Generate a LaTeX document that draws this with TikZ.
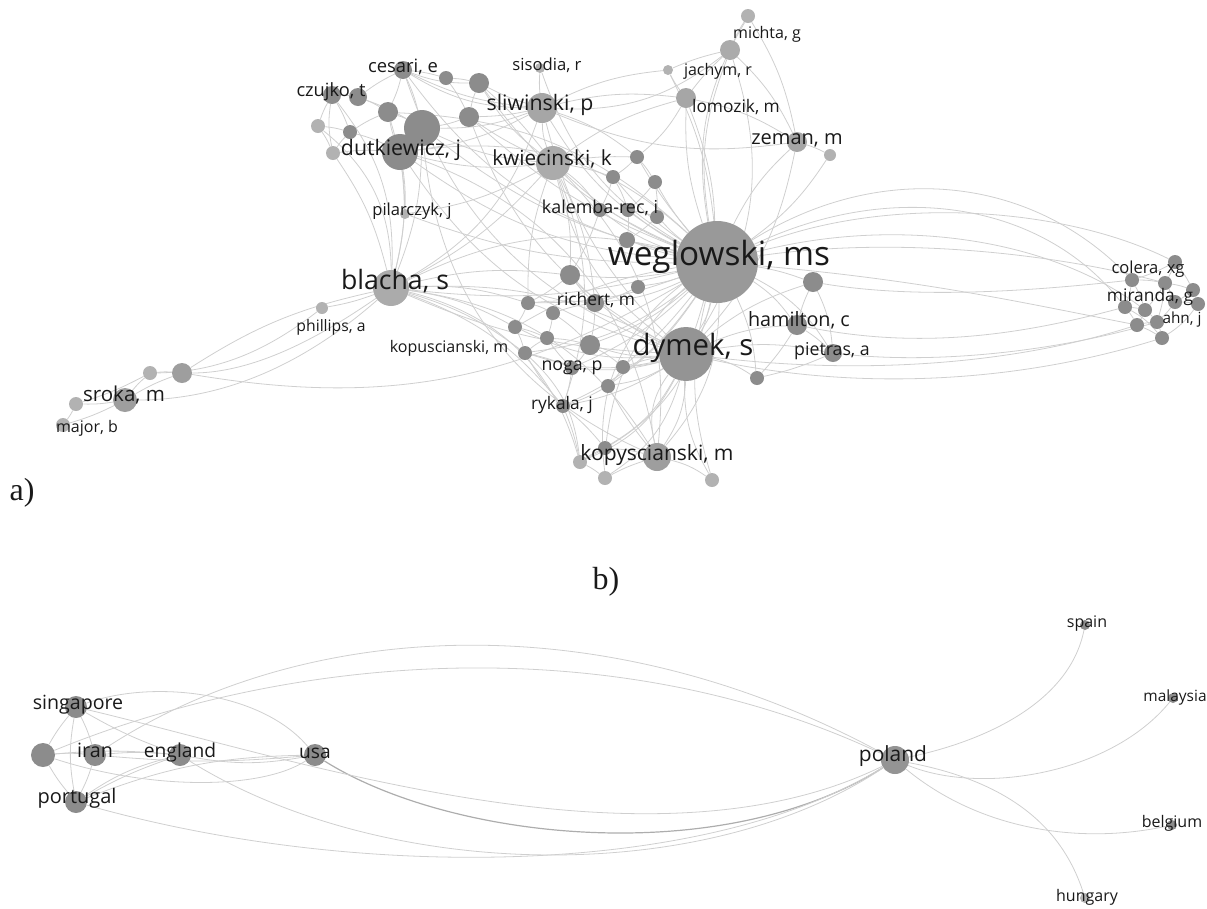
\documentclass[tikz,border=0pt]{standalone}
\usepackage{fontspec}
\setmainfont{Open Sans}
\newfontfamily\labserif{Liberation Serif}
\pgfdeclarelayer{bg}
\pgfsetlayers{bg,main}
\tikzset{
  nd/.style={circle, inner sep=0pt, fill=black!45, minimum size=#1*1.5pt},
  ndl/.style={nd=#1, fill=black!30},
  lab/.style={inner sep=0pt, text=black!90, text height=0.75em, text depth=0.2em, font=\fontsize{#1}{#1}\selectfont},
  panel/.style={inner sep=0pt, text=black!90, font=\labserif\fontsize{24}{24}\selectfont},
  ed/.style={draw=black!19, line width=0.6pt},
  edd/.style={draw=black!32, line width=0.9pt},
}
\begin{document}
\begin{tikzpicture}[x=0.75pt,y=-0.75pt]
\useasboundingbox (0,0) rectangle (1207,908);
% ---------------- graph a: nodes ----------------
\node[nd=41, fill=black!40] (W) at (717,262) {};
\node[nd=27, fill=black!42] (D) at (686,354) {};
\node[nd=18, fill=black!33] (B) at (391,288) {};
\node[nd=17, fill=black!33] (K) at (553,163) {};
\node[nd=15, fill=black!35] (S) at (542,108) {};
\node[nd=18] (DU) at (400,152) {};
\node[nd=18] (BG) at (422,128) {};
\node[nd=14, fill=black!38] (KO) at (657,457) {};
\node[nd=10, fill=black!35] (Z) at (797,142) {};
\node[ndl=6] (Z2) at (830,155) {};
\node[nd=10] (H) at (797,325) {};
\node[nd=9] (P) at (833,353) {};
\node[nd=10] (R1) at (813,282) {};
\node[nd=12, fill=black!38] (SR) at (125,400) {};
\node[ndl=7] (SR2) at (150,373) {};
\node[nd=10, fill=black!38] (SR3) at (182,373) {};
\node[ndl=7] (SR4) at (76,404) {};
\node[ndl=7] (MJ) at (63,425) {};
\node[ndl=6] (PH) at (322,308) {};
\node[nd=9] (CZ1) at (332,95) {};
\node[nd=9] (CZ2) at (358,97) {};
\node[nd=9] (CE) at (403,70) {};
\node[nd=7] (T1) at (446,78) {};
\node[nd=10] (T2) at (479,83) {};
\node[nd=10] (T3) at (388,112) {};
\node[nd=10] (T4) at (469,117) {};
\node[ndl=7] (T5) at (318,126) {};
\node[nd=7] (T6) at (350,132) {};
\node[ndl=7] (T7) at (333,153) {};
\node[ndl=5] (SI) at (540,68) {};
\node[ndl=5] (JA) at (668,70) {};
\node[nd=10, fill=black!35] (LO) at (686,98) {};
\node[nd=10, fill=black!33] (MI) at (730,50) {};
\node[ndl=7] (MI2) at (748,16) {};
\node[ndl=5] (PI) at (405,214) {};
\node[nd=7] (N1) at (637,157) {};
\node[nd=7] (N2) at (613,177) {};
\node[nd=7] (N3) at (655,182) {};
\node[nd=7] (N4) at (600,210) {};
\node[nd=7] (N5) at (628,210) {};
\node[nd=7] (N6) at (657,217) {};
\node[nd=8] (N7) at (627,240) {};
\node[nd=10] (N8) at (570,275) {};
\node[nd=7] (N9) at (638,287) {};
\node[nd=9] (RI) at (595,303) {};
\node[nd=7] (C1) at (528,303) {};
\node[nd=7] (C2) at (553,313) {};
\node[nd=7] (C3) at (515,327) {};
\node[nd=7] (C4) at (547,338) {};
\node[nd=10] (C5) at (590,345) {};
\node[nd=7] (KP) at (525,353) {};
\node[nd=7] (NO) at (572,368) {};
\node[nd=7] (N10) at (623,367) {};
\node[nd=7] (N11) at (608,386) {};
\node[nd=7] (RY) at (563,406) {};
\node[nd=7] (N12) at (757,378) {};
\node[ndl=7] (K1) at (580,462) {};
\node[nd=7] (K2) at (605,448) {};
\node[ndl=7] (K3) at (605,478) {};
\node[ndl=7] (K4) at (712,480) {};
\node[nd=7] (RC1) at (1175,262) {};
\node[nd=7] (RC2) at (1132,280) {};
\node[nd=7] (RC3) at (1165,283) {};
\node[nd=7] (RC4) at (1193,290) {};
\node[nd=7] (RC5) at (1125,307) {};
\node[nd=7] (RC6) at (1145,310) {};
\node[nd=7] (RC8) at (1175,302) {};
\node[nd=7] (RC9) at (1198,304) {};
\node[nd=7] (RC10) at (1137,325) {};
\node[nd=7] (RC11) at (1157,322) {};
\node[nd=7] (RC12) at (1162,338) {};
% ---------------- graph b: nodes ----------------
\node[nd=12] (LN) at (43,755) {};
\node[nd=11] (IR) at (95,755) {};
\node[nd=11] (SG) at (76,707) {};
\node[nd=11] (PT) at (76,802) {};
\node[nd=11] (EN) at (180,755) {};
\node[nd=11] (US) at (315,755) {};
\node[nd=14, fill=black!42] (PL) at (895,760) {};
\node[nd=5] (SP) at (1085,625) {};
\node[nd=5] (MA) at (1173,698) {};
\node[nd=5] (BE) at (1172,825) {};
\node[ndl=5] (HU) at (1085,898) {};
% ---------------- edges ----------------
\begin{pgfonlayer}{bg}
\foreach \a/\b/\c in {W/D/10, W/K/10, W/S/15, W/B/10, W/DU/15, W/BG/12, W/T4/10, W/T2/15, W/CE/20,
  W/Z/10, W/Z2/-10, W/H/10, W/P/15, W/R1/5, W/KO/20, W/LO/10, W/MI/15, W/MI2/20, W/JA/-10,
  W/N1/5, W/N2/8, W/N3/5, W/N4/10, W/N5/5, W/N6/5, W/N7/5, W/N8/8, W/N9/5, W/RI/10, W/C5/10,
  W/N12/10, W/K4/-15, W/K2/-20, W/NO/10, W/N10/5, W/N11/10, W/RY/15, W/KP/15, W/C1/10, W/SI/20, W/PI/10,
  W/K1/25, W/C3/-10, W/SR3/20, W/T3/-20, W/K3/-30, W/DU/-25, W/B/-20,
  D/KO/15, D/K1/20, D/K2/15, D/K3/20, D/K4/-15, D/N12/10, D/H/10, D/P/10, D/N10/5, D/N11/10,
  D/RY/10, D/C5/10, D/B/10, D/K/20, D/S/15, D/DU/20, D/KP/15, D/NO/10, D/N8/10, D/R1/10, D/LO/-20, D/MI/-25,
  D/Z/-15, D/T4/20, D/C3/15, D/KO/-25, D/B/-15, D/CE/25,
  K/S/10, K/DU/10, K/BG/10, K/N1/5, K/N2/5, K/N4/10, K/B/10, K/T4/5, K/T2/10, K/LO/10, K/N8/10, K/KO/25, K/PI/10,
  K/RI/10, K/C1/-10, K/RY/20,
  S/T2/5, S/T4/5, S/BG/10, S/DU/10, S/LO/10, S/SI/5, S/JA/10, S/CE/15, S/B/20, S/N1/10, S/MI/-20, S/Z/-15,
  CZ1/CZ2/5, CZ2/CE/5, CE/T1/5, T1/T2/5, CE/T3/5, T3/BG/5, BG/DU/5, T5/CZ1/5, T5/T6/5, T6/T3/5, T6/DU/5,
  T7/DU/5, T7/T6/5, CZ2/T3/5, CZ1/T6/5, T4/BG/5, T4/T2/5, T2/CE/10, T1/T4/5, CE/BG/5, CZ2/BG/5, DU/T3/5,
  T7/CZ1/10, T5/T7/5, DU/B/10, BG/B/10, DU/PI/5, T3/B/15, CZ1/B/20, T5/B/25, T7/B/10, CE/S/-10, T2/K/5,
  DU/KO/30, BG/KO/-30,
  LO/MI/5, MI/MI2/5, LO/Z/10, MI/Z/10, LO/JA/5, JA/MI/5, Z/Z2/5, MI2/Z/10, LO/N1/10,
  C1/C2/5, C1/C3/5, C2/C4/5, C3/C4/5, C3/KP/5, C4/C5/5, C2/RI/5, RI/C5/5, KP/NO/5, NO/C4/5, NO/RY/5,
  RY/KP/5, C5/NO/5, N10/N11/5, N11/RY/5, C5/N10/5, RI/N8/5, N8/C1/5, N9/RI/5, RY/K1/5, RY/K2/5,
  K1/K2/5, K2/KO/5, K3/KO/5, K1/K3/5, KO/K4/10, KO/N11/5, B/C1/10, B/C3/10, B/KP/10, B/RY/15, B/KO/25,
  B/PH/5, B/SR3/-10, B/N8/10, C2/C5/5, C1/RI/5, KP/C4/5, N10/D/5, KP/K1/20, B/K1/30,
  N1/N2/5, N1/N3/5, N2/N4/5, N3/N6/5, N4/N5/5, N5/N6/5, N5/N7/5, N2/N5/5, N4/N8/5, N6/N7/5, N3/N5/5,
  H/P/5, H/R1/5, P/N12/5, H/N12/5, R1/P/10,
  SR/SR2/5, SR/SR3/5, SR2/SR3/5, SR/SR4/5, SR4/MJ/5, SR/MJ/5, SR2/SR4/5,
  RC1/RC3/5, RC1/RC2/5, RC2/RC3/5, RC3/RC4/5, RC2/RC5/5, RC2/RC6/5, RC3/RC6/5, RC3/RC8/5, RC4/RC8/5,
  RC4/RC9/5, RC8/RC9/5, RC5/RC6/5, RC5/RC10/5, RC6/RC11/5, RC6/RC10/5, RC10/RC11/5, RC11/RC12/5,
  RC10/RC12/5, RC8/RC11/5, RC9/RC12/10, RC1/RC4/5, RC5/RC12/10, RC3/RC11/5}
  \draw[ed] (\a) to[bend left=\c] (\b);
% long arcs to the right cluster
\draw[ed] (W) .. controls (880,160) and (1030,175) .. (RC2);
\draw[ed] (W) .. controls (890,180) and (1040,200) .. (RC5);
\draw[ed] (W) .. controls (880,195) and (1060,205) .. (RC1);
\draw[ed] (W) .. controls (900,215) and (1050,240) .. (RC6);
\draw[ed] (W) .. controls (900,235) and (1060,255) .. (RC3);
\draw[ed] (W) .. controls (920,280) and (1010,300) .. (RC10);
\draw[ed] (D) .. controls (850,390) and (1010,385) .. (RC12);
\draw[ed] (D) .. controls (860,375) and (1010,365) .. (RC10);
\draw[ed] (H) .. controls (920,350) and (1020,335) .. (RC5);
\draw[ed] (R1) .. controls (920,300) and (1040,290) .. (RC2);
\draw[ed] (P) .. controls (940,365) and (1060,350) .. (RC11);
% sroka branch
\draw[ed] (B) .. controls (330,330) and (260,373) .. (SR3);
\draw[ed] (B) .. controls (320,350) and (240,400) .. (SR);
\draw[ed] (PH) .. controls (280,340) and (230,372) .. (SR2);
% ---------------- graph b edges ----------------
\foreach \a/\b/\c in {LN/SG/5, LN/IR/5, LN/PT/-5, SG/IR/5, SG/EN/-5, IR/PT/5, IR/EN/5, EN/PT/-5,
  EN/US/-10, PT/US/10, LN/EN/5, SG/PT/-10, PT/EN/10, IR/US/-5}
  \draw[ed] (\a) to[bend left=\c] (\b);
\draw[ed] (SG) .. controls (150,680) and (260,690) .. (US);
\draw[ed] (LN) .. controls (150,790) and (260,790) .. (US);
\draw[ed] (IR) .. controls (300,620) and (600,600) .. (PL);
\draw[ed] (LN) .. controls (300,650) and (620,630) .. (PL);
\draw[edd] (US) .. controls (450,840) and (720,870) .. (PL);
\draw[ed] (EN) .. controls (380,880) and (700,890) .. (PL);
\draw[ed] (PT) .. controls (350,880) and (700,880) .. (PL);
\draw[ed] (SG) .. controls (300,760) and (650,880) .. (PL);
\draw[ed] (PL) .. controls (990,740) and (1070,700) .. (SP);
\draw[ed] (PL) .. controls (980,795) and (1110,775) .. (MA);
\draw[ed] (PL) .. controls (980,830) and (1080,845) .. (BE);
\draw[ed] (PL) .. controls (1000,780) and (1060,820) .. (HU);
\end{pgfonlayer}
% ---------------- labels a ----------------
\node[lab=25] (lW) at (719,262) {weglowski, ms};
\node[lab=22] (lD) at (693,352) {dymek, s};
\node[lab=20] (lB) at (395,286) {blacha, s};
\node[lab=15.6] (lK) at (552,162) {kwiecinski, k};
\node[lab=16] (lS) at (540,107) {sliwinski, p};
\node[lab=16] (lDU) at (401,152) {dutkiewicz, j};
\node[lab=15.8] (lKO) at (657,457) {kopyscianski, m};
\node[lab=15] (lZ) at (797,141) {zeman, m};
\node[lab=14.8] (lH) at (799,323) {hamilton, c};
\node[lab=13.3] (lP) at (832,352) {pietras, a};
\node[lab=15.4] (lSR) at (124,398) {sroka, m};
\node[lab=12] (lMJ) at (87,429) {major, b};
\node[lab=11.8] (lPH) at (331,328) {phillips, a};
\node[lab=12] (lKP) at (449,349) {kopuscianski, m};
\node[lab=13] (lRI) at (596,302) {richert, m};
\node[lab=13.3] (lNO) at (572,367) {noga, p};
\node[lab=13] (lRY) at (562,406) {rykala, j};
\node[lab=13.4] (lKA) at (600,210) {kalemba-rec, i};
\node[lab=12.4] (lPI) at (412,212) {pilarczyk, j};
\node[lab=13.8] (lCE) at (403,69) {cesari, e};
\node[lab=13.7] (lCZ) at (331,93) {czujko, t};
\node[lab=12.5] (lSI) at (547,67) {sisodia, r};
\node[lab=12] (lJA) at (718,72) {jachym, r};
\node[lab=12] (lMI) at (767,35) {michta, g};
\node[lab=13] (lLO) at (736,109) {lomozik, m};
\node[lab=12.4] (lCO) at (1148,270) {colera, xg};
\node[lab=13] (lMR) at (1150,298) {miranda, g};
\node[lab=11.5] (lAH) at (1182,320) {ahn, j};
% ---------------- labels b ----------------
\node[lab=14.7] (lSG) at (78,706) {singapore};
\node[lab=14.8] (lIR) at (95,754) {iran};
\node[lab=14.4] (lEN) at (180,754) {england};
\node[lab=14.4] (lUS) at (315,755) {usa};
\node[lab=15] (lPT) at (77,800) {portugal};
\node[lab=15.7] (lPL) at (893,758) {poland};
\node[lab=12] (lSP) at (1087,624) {spain};
\node[lab=11.6] (lMA) at (1175,698) {malaysia};
\node[lab=12] (lBE) at (1172,824) {belgium};
\node[lab=12] (lHU) at (1087,898) {hungary};
% panel labels
\node[panel] (pa) at (22,493) {a)};
\node[panel] (pb) at (606,582) {b)};
\end{tikzpicture}
\end{document}
